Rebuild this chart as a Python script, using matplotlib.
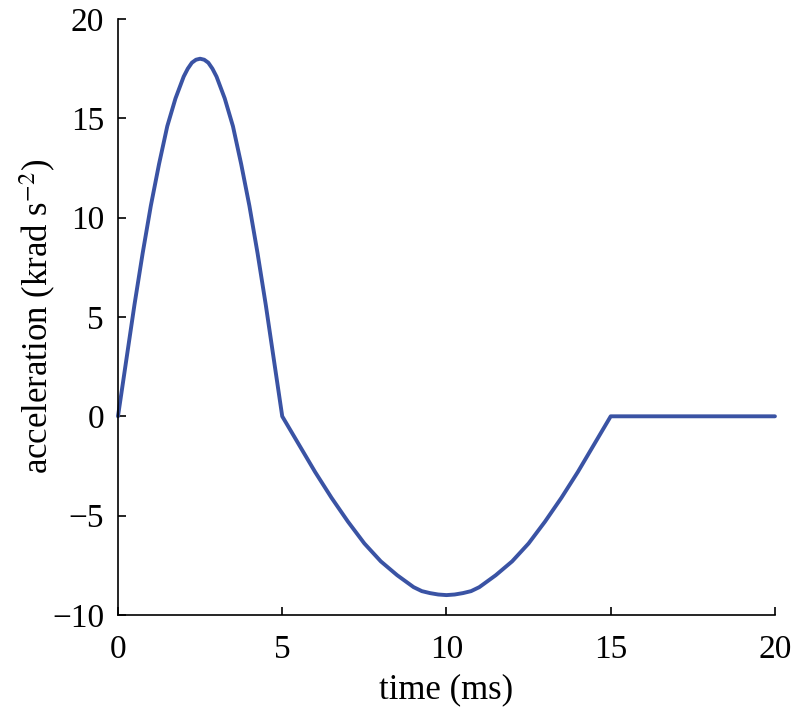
import matplotlib.pyplot as plt

# values (time in ms, acceleration in krad s^-2)
t_pulse = [0, 0.25, 0.5, 0.75, 1, 1.25, 1.5, 1.75, 2, 2.125, 2.25, 2.375, 2.5,
           2.625, 2.75, 2.875, 3, 3.25, 3.5, 3.75, 4, 4.25, 4.5, 4.75, 5]
a_pulse = [0, 2.8, 5.6, 8.2, 10.6, 12.7, 14.6, 16.0, 17.1, 17.5, 17.8, 17.95, 18.0,
           17.95, 17.8, 17.5, 17.1, 16.0, 14.6, 12.7, 10.6, 8.2, 5.6, 2.8, 0]

t_back = [5.5, 6, 6.5, 7, 7.5, 8, 8.5, 8.75, 9, 9.25, 9.5, 9.75, 10,
          10.25, 10.5, 10.75, 11, 11.25, 11.5, 12, 12.5, 13, 13.5, 14, 14.5, 15, 20]
a_back = [-1.4, -2.8, -4.1, -5.3, -6.4, -7.3, -8.0, -8.3, -8.6, -8.8, -8.9, -8.97, -9.0,
          -8.97, -8.9, -8.8, -8.6, -8.3, -8.0, -7.3, -6.4, -5.3, -4.1, -2.8, -1.4, 0, 0]

t = t_pulse + t_back
a = a_pulse + a_back

xticks = [0, 5, 10, 15, 20]
yticks = [-10, -5, 0, 5, 10, 15, 20]

plt.rcParams['font.family'] = ['Liberation Serif', 'DejaVu Serif']
plt.rcParams['mathtext.fontset'] = 'stix'

fig = plt.figure(figsize=(7.94, 7.14), dpi=100)
ax = fig.add_axes([0.1486, 0.1387, 0.8274, 0.8347])
ax.plot(t, a, '-', color='#3a53a4', linewidth=2.8, clip_on=False,
        solid_joinstyle='round', solid_capstyle='round')

ax.set_xlim(0, 20)
ax.set_ylim(-10, 20)
ax.set_xticks(xticks)
ax.set_yticks(yticks)
ax.set_xticklabels([str(v) for v in xticks])
ax.set_yticklabels([str(v).replace('-', '\u2212') for v in yticks])
ax.tick_params(direction='in', length=6, width=1.2, labelsize=24)
ax.tick_params(axis='x', pad=14)
ax.tick_params(axis='y', pad=10)
for s in ['top', 'right']:
    ax.spines[s].set_visible(False)
for s in ['left', 'bottom']:
    ax.spines[s].set_linewidth(1.2)

ax.set_xlabel('time (ms)', fontsize=25, labelpad=6)
ax.set_ylabel('acceleration (krad s$^{-2}$)', fontsize=25)
ax.yaxis.set_label_coords(-0.092, 0.5)

fig.savefig('out.png', dpi=100)
